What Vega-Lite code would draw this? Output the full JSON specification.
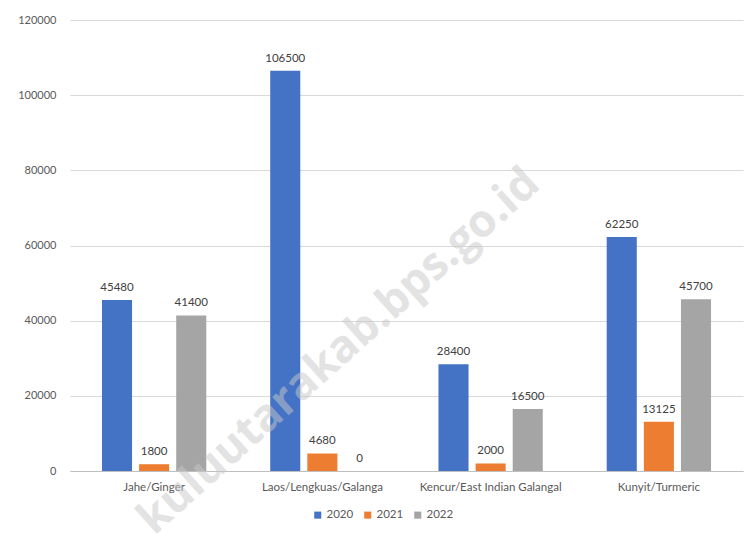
{
  "$schema": "https://vega.github.io/schema/vega-lite/v6.json",
  "autosize": {"type": "none"},
  "width": 673,
  "height": 451,
  "padding": {"left": 70, "top": 20, "right": 8, "bottom": 66},
  "background": "white",
  "config": {
    "view": {"stroke": null},
    "font": "Lato",
    "axis": {"labelFont": "Lato", "labelColor": "#595959", "labelFontSize": 11}
  },
  "datasets": {
    "main": [
      {"category": "Jahe/Ginger", "year": "2020", "value": 45480},
      {"category": "Jahe/Ginger", "year": "2021", "value": 1800},
      {"category": "Jahe/Ginger", "year": "2022", "value": 41400},
      {"category": "Laos/Lengkuas/Galanga", "year": "2020", "value": 106500},
      {"category": "Laos/Lengkuas/Galanga", "year": "2021", "value": 4680},
      {"category": "Laos/Lengkuas/Galanga", "year": "2022", "value": 0},
      {"category": "Kencur/East Indian Galangal", "year": "2020", "value": 28400},
      {"category": "Kencur/East Indian Galangal", "year": "2021", "value": 2000},
      {"category": "Kencur/East Indian Galangal", "year": "2022", "value": 16500},
      {"category": "Kunyit/Turmeric", "year": "2020", "value": 62250},
      {"category": "Kunyit/Turmeric", "year": "2021", "value": 13125},
      {"category": "Kunyit/Turmeric", "year": "2022", "value": 45700}
    ],
    "wm": [
      {"category": "Laos/Lengkuas/Galanga", "value": 28000, "text": "kuluutarakab.bps.go.id"}
    ]
  },
  "data": {"name": "main"},
  "encoding": {
    "x": {
      "field": "category", "type": "nominal",
      "sort": ["Jahe/Ginger", "Laos/Lengkuas/Galanga", "Kencur/East Indian Galangal", "Kunyit/Turmeric"],
      "scale": {"domain": ["Jahe/Ginger", "Laos/Lengkuas/Galanga", "Kencur/East Indian Galangal", "Kunyit/Turmeric"], "paddingInner": 0.38, "paddingOuter": 0.19},
      "axis": {"title": null, "labelAngle": 0, "ticks": false, "domainColor": "#bfbfbf", "labelPadding": 10, "labelFontSize": 11.5}
    },
    "y": {
      "field": "value", "type": "quantitative",
      "scale": {"domain": [0, 120000]},
      "axis": {"title": null, "values": [0, 20000, 40000, 60000, 80000, 100000, 120000], "labelOverlap": false, "format": "d", "domain": false, "ticks": false, "labelPadding": 14, "gridColor": "#d9d9d9", "labelFontSize": 11}
    },
    "xOffset": {"field": "year", "type": "nominal", "scale": {"domain": ["2020", "2021", "2022"], "paddingInner": 0.19}}
  },
  "layer": [
    {
      "mark": {"type": "bar"},
      "encoding": {
        "color": {
          "field": "year", "type": "nominal",
          "scale": {"domain": ["2020", "2021", "2022"], "range": ["#4472C4", "#ED7D31", "#A5A5A5"]},
          "legend": {"title": null, "orient": "none", "legendX": 242, "legendY": 489, "direction": "horizontal", "symbolType": "square", "symbolSize": 50, "labelColor": "#595959", "labelFontSize": 11.5, "columnPadding": 8, "labelOffset": 3}
        }
      }
    },
    {
      "mark": {"type": "text", "dy": -12, "fontSize": 11.5, "color": "#404040"},
      "encoding": {"text": {"field": "value", "type": "quantitative", "format": "d"}}
    },
    {
      "data": {"name": "wm"},
      "mark": {"type": "text", "angle": -42, "fontSize": 45, "fontWeight": "bold", "color": "#c8c8c8", "opacity": 0.5, "font": "Open Sans", "dx": 22},
      "encoding": {
        "xOffset": null,
        "text": {"field": "text"}
      }
    }
  ]
}
